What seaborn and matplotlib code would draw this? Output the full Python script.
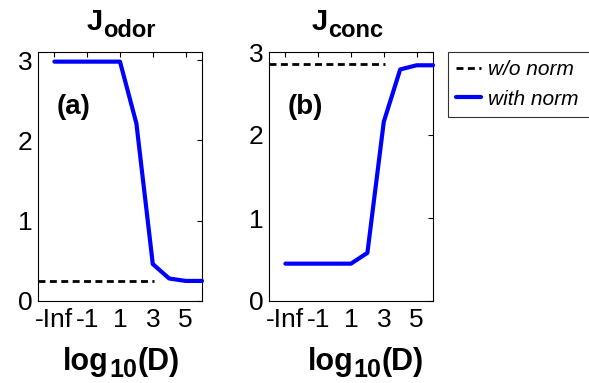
import numpy as np
import pandas as pd
import matplotlib
matplotlib.use("Agg")
import matplotlib.pyplot as plt
import seaborn as sns
from matplotlib.lines import Line2D

# ---------------- data ----------------
x_pos = [-3, -2, -1, 0, 1, 2, 3, 4, 5, 6]          # -3 stands for log10(D) = -Inf
odor_with_norm = [2.98, 2.98, 2.98, 2.98, 2.98, 2.21, 0.46, 0.28, 0.25, 0.25]
conc_with_norm = [0.45, 0.45, 0.45, 0.45, 0.45, 0.58, 2.16, 2.79, 2.84, 2.84]
odor_wo_norm = 0.25
conc_wo_norm = 2.85
wo_norm_x = [-4, 3.1]
x_tick_pos = [-3, -1, 1, 3, 5]
x_tick_labels = ["-Inf", "-1", "1", "3", "5"]
y_ticks = [0, 1, 2, 3]
y_tick_labels = ["0", "1", "2", "3"]
title_main = ["J", "J"]
title_sub = ["odor", "conc"]
panel_tags = ["(a)", "(b)"]
legend_labels = ["w/o norm", "with norm"]

# ---------------- style ----------------
sns.set_style("white")
plt.rcParams["font.family"] = ["Liberation Sans", "DejaVu Sans"]
plt.rcParams["axes.linewidth"] = 0.8
plt.rcParams["text.color"] = "black"
plt.rcParams["xtick.color"] = "black"
plt.rcParams["ytick.color"] = "black"
plt.rcParams["axes.labelcolor"] = "black"

W, H = 589, 383
fig = plt.figure(figsize=(W / 100, H / 100), dpi=100)


def px_axes(left, right, top, bottom):
    return fig.add_axes([left / W, 1 - bottom / H, (right - left) / W, (bottom - top) / H])


def compound(ax, x, y, parts):
    s, size, _ = parts[0]
    prev = ax.text(x, y, s, transform=ax.transAxes, fontsize=size, color="black",
                   fontweight="bold", ha="left", va="baseline", clip_on=False)
    for s, size, dy in parts[1:]:
        prev = ax.annotate(s, xy=(1, 0), xycoords=prev, xytext=(0.3, dy),
                           textcoords="offset points", fontsize=size, color="black",
                           fontweight="bold", ha="left", va="bottom",
                           annotation_clip=False)


blue = (0, 0, 1)
dash = (0, (2.5, 1.6))

specs = [
    dict(box=(38, 202, 52, 301), y=odor_with_norm, wo=odor_wo_norm, ylim=(0, 3.1),
         title_x=0.295, xlabel_x=0.152),
    dict(box=(269, 433, 52, 301), y=conc_with_norm, wo=conc_wo_norm, ylim=(0, 3.0),
         title_x=0.262, xlabel_x=0.235),
]

for i, sp in enumerate(specs):
    ax = px_axes(*sp["box"])
    df = pd.DataFrame({"x": x_pos, "y": sp["y"]})
    sns.lineplot(data=df, x="x", y="y", ax=ax, color=blue, lw=3.0,
                 clip_on=False, zorder=3)
    dfw = pd.DataFrame({"x": wo_norm_x, "y": [sp["wo"]] * len(wo_norm_x)})
    sns.lineplot(data=dfw, x="x", y="y", ax=ax, color="black", lw=2.0,
                 linestyle=dash, clip_on=False, zorder=2)
    ax.set_xlim(-4, 6)
    ax.set_ylim(*sp["ylim"])
    ax.set_xticks(x_tick_pos)
    ax.set_xticklabels(x_tick_labels)
    ax.set_yticks(y_ticks)
    ax.set_yticklabels(y_tick_labels)
    ax.set_xlabel("")
    ax.set_ylabel("")
    ax.tick_params(axis="both", direction="in", length=3.5, width=0.8,
                   top=True, right=True, labelsize=19, colors="black")
    ax.tick_params(axis="x", pad=5)
    ax.tick_params(axis="y", pad=4)
    for s in ax.spines.values():
        s.set_visible(True)
        s.set_color("black")
        s.set_linewidth(0.8)
    # title J_sub
    compound(ax, sp["title_x"], 1.088,
             [(title_main[i], 21, 0), (title_sub[i], 17, -4.5)])
    # x label log10(D)
    compound(ax, sp["xlabel_x"], -0.277,
             [("log", 22, 0), ("10", 18, -3.5), ("(D)", 22, 3.5)])
    ax.text(0.115, 0.751, panel_tags[i], transform=ax.transAxes, color="black",
            fontsize=20, fontweight="bold", ha="left", va="baseline")

handles = [Line2D([], [], color="black", lw=2.0, linestyle=dash),
           Line2D([], [], color=blue, lw=3.0)]
leg = fig.legend(handles, legend_labels, loc="upper left", mode="expand",
                 bbox_to_anchor=(448 / W, 1 - 52 / H, 0.3, 0.0), borderaxespad=0,
                 fancybox=False, frameon=True, edgecolor="black",
                 prop={"style": "italic", "size": 15}, handlelength=1.2,
                 handletextpad=0.3, labelspacing=0.5, borderpad=0.4)
leg.get_frame().set_linewidth(0.8)
for t in leg.get_texts():
    t.set_color("black")

fig.savefig("out.png", dpi=100)
